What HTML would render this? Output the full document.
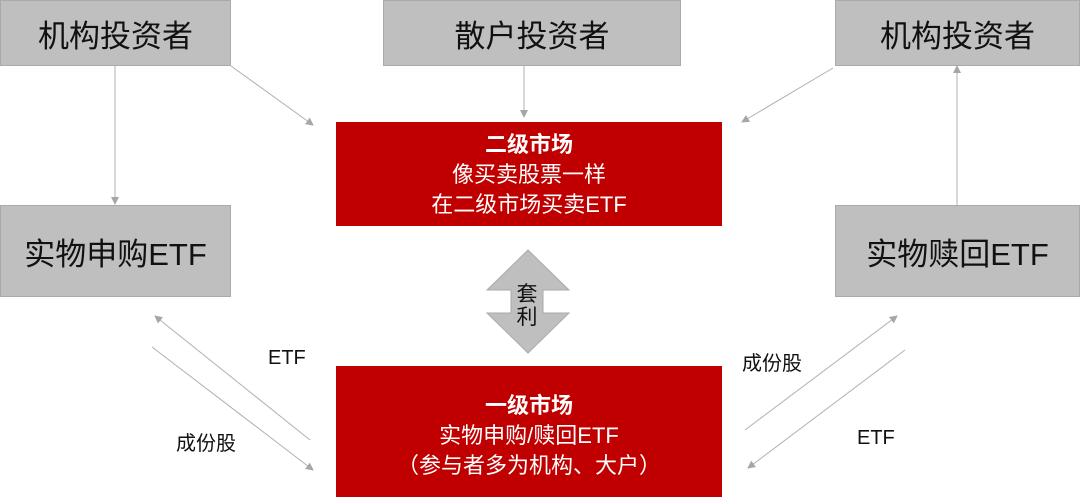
<!DOCTYPE html>
<html><head><meta charset="utf-8"><style>
body{margin:0;width:1080px;height:497px;background:#fff;position:relative;overflow:hidden;font-family:"Liberation Sans","Noto Sans CJK SC",sans-serif}
.g{position:absolute;background:#bfbfbf;border:1px solid #aaa;box-sizing:border-box;display:flex;align-items:center;justify-content:center;color:#111;font-size:31px}
.r{position:absolute;background:#c00000;color:#fff;text-align:center;box-sizing:border-box;font-size:22px;line-height:30px}
.l{position:absolute;font-size:20px;color:#111}
</style></head><body>
<div class="g" style="left:0;top:0;width:231px;height:66px">机构投资者</div>
<div class="g" style="left:383px;top:0;width:298px;height:66px">散户投资者</div>
<div class="g" style="left:835px;top:0;width:245px;height:66px">机构投资者</div>
<div class="g" style="left:0;top:205px;width:231px;height:92px">实物申购ETF</div>
<div class="g" style="left:835px;top:205px;width:245px;height:92px">实物赎回ETF</div>
<div class="r" style="left:336px;top:122px;width:386px;height:104px;padding-top:8px"><b>二级市场</b><br>像买卖股票一样<br>在二级市场买卖ETF</div>
<div class="r" style="left:336px;top:366px;width:386px;height:131px;padding-top:25px"><b>一级市场</b><br>实物申购/赎回ETF<br>（参与者多为机构、大户）</div>
<svg style="position:absolute;left:0;top:0" width="1080" height="497">
<defs><marker id="a" markerWidth="8" markerHeight="8" refX="7" refY="4" orient="auto" markerUnits="userSpaceOnUse"><path d="M0,0L8,4L0,8z" fill="#a6a6a6"/></marker></defs>
<g stroke="#b0b0b0" stroke-width="1" fill="none" marker-end="url(#a)">
<line x1="115" y1="66" x2="115" y2="204"/>
<line x1="231" y1="66" x2="313" y2="125"/>
<line x1="524" y1="66" x2="524" y2="117"/>
<line x1="833" y1="68" x2="742" y2="122"/>
<line x1="957" y1="205" x2="957" y2="66"/>
<line x1="310" y1="440" x2="155" y2="316"/>
<line x1="152" y1="347" x2="313" y2="470"/>
<line x1="745" y1="430" x2="897" y2="316"/>
<line x1="905" y1="350" x2="748" y2="468"/>
</g>
<path d="M528,250L569,290L543,290L543,313L569,313L528,353L487,313L511,313L511,290L487,290Z" fill="#bfbfbf" stroke="#aaa"/>
<text x="527" y="301" font-size="21" text-anchor="middle" fill="#111" font-family="Liberation Sans,Noto Sans CJK SC,sans-serif">套</text>
<text x="527" y="324" font-size="21" text-anchor="middle" fill="#111" font-family="Liberation Sans,Noto Sans CJK SC,sans-serif">利</text>
</svg>
<div class="l" style="left:268px;top:347px">ETF</div>
<div class="l" style="left:176px;top:427px">成份股</div>
<div class="l" style="left:742px;top:347px">成份股</div>
<div class="l" style="left:857px;top:427px">ETF</div>
</body></html>
